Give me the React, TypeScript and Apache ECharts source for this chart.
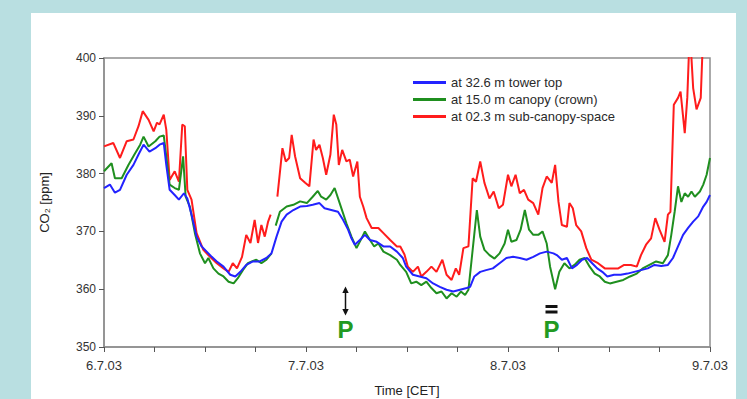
import React, { useEffect, useRef } from "react";
import * as echarts from "echarts";

const dayLabels = ["6.7.03", "7.7.03", "8.7.03", "9.7.03"];
const seriesNames = ["at 32.6 m tower top", "at 15.0 m canopy (crown)", "at 02.3 m sub-canopy-space"];

// hours since 6.7.03 00:00 and CO2 values [ppm]
const topHours = [0.0,0.7,1.3,1.9,2.7,3.5,4.1,4.7,5.4,6.1,6.6,7.1,7.4,7.8,8.4,8.9,9.5,9.9,10.4,11.0,11.6,12.2,12.8,13.4,14.2,15.0,15.6,16.2,16.9,17.7,18.5,19.3,19.9,20.5,21.1,21.7,22.5,23.3,24.1,24.8,25.6,26.2,27.0,27.8,28.4,29.0,29.4,29.8,30.4,31.0,31.6,32.4,33.2,34.0,34.8,35.5,35.9,36.7,37.5,38.3,39.1,39.9,40.7,41.5,42.3,43.1,43.5,44.0,44.7,45.4,46.2,47.0,47.8,48.6,49.4,50.2,51.0,51.8,52.6,53.4,53.8,54.4,55.0,55.6,56.2,56.8,57.4,58.0,58.6,59.2,59.8,60.6,61.4,62.2,63.0,63.8,64.6,65.4,66.2,67.0,67.6,68.2,68.8,69.4,70.0,70.6,71.2,71.6,72.0];
const topValues = [377.5,378.1,376.7,377.2,379.8,381.5,383.3,385.0,383.8,384.4,385.0,385.3,381.5,377.2,376.3,375.5,376.6,375.7,372.9,369.1,367.4,366.5,365.6,364.8,363.9,362.5,362.2,363.0,364.2,364.8,364.8,365.4,366.2,369.1,371.7,372.9,373.7,374.3,374.4,374.6,374.9,374.0,373.7,373.4,372.0,370.3,368.8,367.7,368.5,369.4,368.5,368.2,367.4,367.4,366.5,365.4,363.9,362.5,362.2,361.9,361.0,360.4,359.9,359.6,359.9,360.2,360.4,362.2,363.0,363.3,363.6,364.5,365.4,365.6,365.4,365.1,365.6,366.2,366.5,366.2,365.9,365.1,365.4,363.6,364.2,365.1,365.4,364.5,363.6,363.0,362.2,362.5,362.5,362.7,363.0,363.3,363.6,364.2,364.0,364.2,365.4,367.4,369.4,370.6,371.7,372.6,374.3,375.1,376.3];

const canopyHours = [0.0,0.9,1.3,2.1,2.9,3.7,4.3,4.7,5.3,6.1,6.6,7.1,7.4,7.8,8.4,8.9,9.4,9.7,10.2,10.8,11.4,12.0,12.4,13.0,13.6,14.2,14.8,15.4,15.9,16.5,17.1,17.7,18.1,18.7,19.3,19.9,20.1,20.4,20.9,21.7,22.5,23.3,24.1,24.8,25.4,25.8,26.4,26.9,27.4,28.0,28.8,29.4,30.0,30.6,31.0,31.6,32.1,32.6,33.2,34.0,34.8,35.2,35.9,36.5,37.1,37.7,38.3,38.9,39.5,40.1,40.7,41.3,41.9,42.4,42.9,43.3,43.8,44.3,44.7,45.2,45.8,46.4,47.0,47.6,48.0,48.4,49.0,49.5,50.0,50.5,51.0,51.6,52.1,52.6,53.0,53.6,54.1,54.7,55.3,55.9,56.5,57.1,57.7,58.3,58.9,59.5,60.1,60.9,61.7,62.5,63.3,64.0,64.8,65.6,66.4,67.0,67.4,67.8,68.2,68.6,69.0,69.4,69.8,70.2,70.8,71.2,71.6,72.0];
const canopyValues = [380.4,381.8,379.2,379.2,381.5,383.5,385.0,386.4,384.7,385.6,386.4,386.6,383.0,378.1,377.5,377.2,383.0,376.0,374.3,369.7,366.2,364.5,365.4,363.6,362.7,362.2,361.3,361.0,361.9,363.3,364.5,364.9,365.1,364.5,365.1,366.2,null,371.0,373.4,374.3,374.6,375.2,374.9,376.0,377.0,376.0,375.5,376.3,377.5,374.9,371.4,369.1,367.1,368.8,370.0,368.5,367.4,367.9,366.5,365.9,365.1,364.2,363.0,361.0,361.3,360.7,361.3,360.2,359.3,359.6,358.4,359.3,358.7,359.6,359.0,359.9,366.8,373.7,369.1,366.8,365.9,365.3,366.2,367.9,370.3,368.2,368.5,370.3,373.7,370.3,369.4,369.4,370.0,367.9,363.9,360.0,363.0,364.5,363.6,364.2,365.1,365.4,363.9,362.7,362.2,361.3,361.0,361.3,361.6,362.2,362.7,363.6,364.2,364.8,364.5,365.9,369.4,373.4,377.8,375.1,376.6,376.0,376.9,376.0,376.9,378.1,379.8,382.7];

const subHours = [0.0,1.1,1.9,2.7,3.5,4.1,4.6,5.3,5.9,6.3,6.6,7.1,7.4,7.8,8.4,8.9,9.3,9.6,9.9,10.4,11.0,11.8,12.6,13.4,14.2,14.8,15.3,15.8,16.4,16.9,17.4,17.9,18.3,18.7,19.1,19.5,19.8,20.2,20.6,21.2,21.6,22.0,22.3,22.7,23.3,23.9,24.4,24.9,25.2,25.6,26.0,26.4,26.9,27.3,27.6,27.9,28.3,28.8,29.2,29.6,30.1,30.4,30.8,31.2,31.8,32.6,33.2,34.0,34.8,35.2,35.7,36.1,36.7,37.3,37.7,38.3,38.9,39.5,40.2,40.7,41.3,41.8,42.2,42.7,43.3,43.8,44.2,44.7,45.2,45.8,46.3,46.9,47.4,48.0,48.4,48.9,49.4,49.9,50.4,51.0,51.6,52.1,52.6,53.2,53.6,54.0,54.4,55.0,55.3,55.7,56.1,56.7,57.3,57.9,58.7,59.5,60.3,61.1,61.8,62.6,63.3,63.8,64.4,65.0,65.5,66.0,66.6,67.0,67.3,67.7,68.2,68.5,69.0,69.3,69.6,70.0,70.4,70.9,71.2,72.0];
const subValues = [384.7,385.3,382.7,385.6,385.9,388.2,390.8,389.3,387.3,388.8,388.5,390.2,387.6,378.9,380.4,378.6,388.5,388.2,377.2,375.5,369.7,366.8,365.6,364.5,363.6,363.0,364.5,363.6,365.6,369.4,368.0,372.0,368.0,371.1,369.1,371.7,372.9,null,376.0,384.4,382.1,382.7,386.7,383.0,379.2,378.4,377.8,385.9,384.1,385.0,382.7,379.8,383.3,390.2,388.5,381.5,384.1,382.1,382.4,379.5,382.1,376.0,374.3,372.3,370.6,370.6,369.7,368.5,367.4,367.4,366.0,363.9,363.0,363.9,362.2,363.0,363.9,363.0,365.1,362.5,361.6,363.6,362.5,367.1,367.4,379.2,378.6,382.1,378.4,375.7,376.9,374.0,374.6,379.8,377.8,379.8,376.6,377.2,375.5,374.9,372.9,377.5,379.5,378.4,381.5,375.1,371.1,370.8,374.9,374.0,371.1,370.0,367.1,365.1,364.5,363.6,363.6,363.6,364.2,364.2,363.9,365.9,367.7,368.8,372.3,370.3,368.2,372.9,373.4,391.9,393.1,394.2,387.0,393.1,405.0,394.8,391.1,393.1,405.0,410.0];

const FONT = "'Liberation Sans', Arial, 'DejaVu Sans', sans-serif";

function pairs(h: number[], v: (number | null)[]) {
  return h.map((x, i) => [x, v[i] === null ? "-" : v[i]]);
}

export default function App() {
  const ref = useRef<HTMLDivElement>(null);
  useEffect(() => {
    if (!ref.current) return;
    const chart = echarts.init(ref.current, null, { renderer: "svg" });
    const colors = ["#2323ff", "#1f8f1f", "#ff1c1c"];
    const data = [pairs(topHours, topValues), pairs(canopyHours, canopyValues), pairs(subHours, subValues)];
    const green = "#229a22";
    chart.setOption({
      animation: false,
      backgroundColor: "transparent",
      textStyle: { fontFamily: FONT },
      grid: {
        left: 104, right: 37, top: 58, bottom: 52,
        outerBoundsMode: "none",
        containLabel: false,
        show: true, borderColor: "#8e8e8e", borderWidth: 1.5, backgroundColor: "transparent",
      },
      legend: {
        orient: "vertical",
        left: 408,
        top: 71,
        icon: "rect",
        itemWidth: 33,
        itemHeight: 3,
        itemGap: 4,
        textStyle: { fontSize: 13, color: "#2a2a2a", fontFamily: FONT },
        data: seriesNames,
      },
      xAxis: {
        type: "value",
        min: 0,
        max: 72,
        interval: 24,
        axisLine: { lineStyle: { color: "#8e8e8e", width: 1.5 } },
        axisTick: { show: true, length: 5, lineStyle: { color: "#555", width: 1 } },
        minorTick: { show: true, splitNumber: 4, length: 5, lineStyle: { color: "#555", width: 1 } },
        splitLine: { show: false },
        minorSplitLine: { show: false },
        axisLabel: {
          margin: 12,
          fontSize: 13,
          color: "#333",
          fontFamily: FONT,
          formatter: (v: number) => dayLabels[Math.round(v / 24)] ?? "",
        },
        name: "Time [CET]",
        nameLocation: "middle",
        nameGap: 37,
        nameTextStyle: { fontSize: 13, color: "#222", fontFamily: FONT },
      },
      yAxis: {
        type: "value",
        min: 350,
        max: 400,
        interval: 10,
        axisLine: { show: true, lineStyle: { color: "#8e8e8e", width: 1.5 } },
        axisTick: { show: true, length: 5, lineStyle: { color: "#555", width: 1 } },
        splitLine: { show: false },
        axisLabel: { margin: 8, fontSize: 12, color: "#333", fontFamily: FONT },
        name: "CO₂ [ppm]",
        nameLocation: "middle",
        nameGap: 53,
        nameTextStyle: { fontSize: 13, color: "#222", fontFamily: FONT },
      },
      series: seriesNames.map((name, i) => ({
        name,
        type: "line",
        data: data[i],
        symbol: "none",
        clip: true,
        color: colors[i],
        lineStyle: { color: colors[i], width: 2 },
        z: 3 - i + 2,
      })),
      graphic: [
        { type: "line", shape: { x1: 345.5, y1: 291, x2: 345.5, y2: 311 }, style: { stroke: "#111", lineWidth: 1.5 }, z: 100 },
        { type: "polygon", shape: { points: [[342.3, 293], [345.5, 286.5], [348.7, 293]] }, style: { fill: "#111" }, z: 100 },
        { type: "polygon", shape: { points: [[342.3, 309], [345.5, 315.5], [348.7, 309]] }, style: { fill: "#111" }, z: 100 },
        { type: "text", x: 345.5, y: 329, style: { text: "P", fill: green, fontSize: 24, fontWeight: "bold", fontFamily: FONT, textAlign: "center", textVerticalAlign: "middle" }, z: 100 },
        { type: "rect", shape: { x: 545.5, y: 305, width: 12, height: 3 }, style: { fill: "#111" }, z: 100 },
        { type: "rect", shape: { x: 545.5, y: 310.5, width: 12, height: 3 }, style: { fill: "#111" }, z: 100 },
        { type: "text", x: 551.5, y: 329, style: { text: "P", fill: green, fontSize: 24, fontWeight: "bold", fontFamily: FONT, textAlign: "center", textVerticalAlign: "middle" }, z: 100 },
      ],
    });
    return () => chart.dispose();
  }, []);
  return (
    <div style={{ position: "fixed", left: 0, top: 0, width: 747, height: 399, background: "#b9dfe1", overflow: "hidden" }}>
      <div style={{ position: "absolute", left: 31, top: 13, width: 705, height: 400, background: "#ffffff" }} />
      <div ref={ref} style={{ position: "absolute", left: 0, top: 0, width: 747, height: 399 }} />
    </div>
  );
}
